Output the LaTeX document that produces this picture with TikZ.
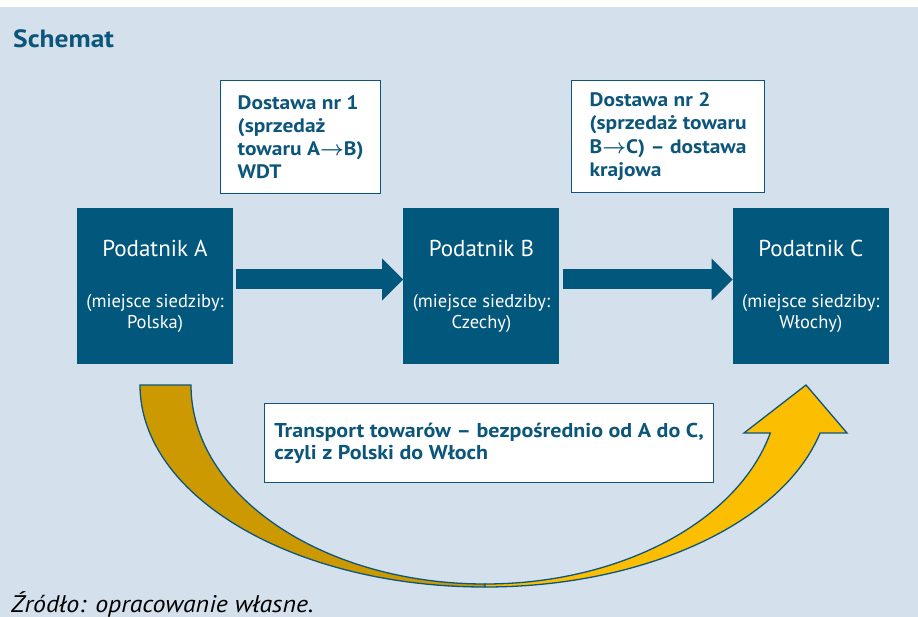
\documentclass[tikz,border=0pt]{standalone}
\usepackage{fontspec}
\setmainfont{PT Sans}[BoldFeatures={FakeStretch=1.1},ItalicFeatures={FakeStretch=1.08}]
\usepackage{bm}
\usepackage{tikz}
\usetikzlibrary{arrows.meta,positioning}
\definecolor{Bg}{HTML}{D4E0EB}
\definecolor{Petrol}{HTML}{02577C}
\definecolor{InkBlue}{HTML}{0C567B}
\definecolor{DarkGold}{HTML}{CC9A00}
\definecolor{LightGold}{HTML}{FBBE00}
\newcommand{\payername}{\fontsize{23}{25}\selectfont}

\begin{document}
\begin{tikzpicture}[
  x=1pt,y=1pt,
  every node/.style={inner sep=0pt},
  taxpayer/.style={fill=Petrol,text=white,minimum width=156pt,minimum height=156pt,align=center,
    font=\fontsize{18.5}{20.5}\selectfont},
  note/.style={draw=InkBlue,line width=1.3pt,fill=white,text=InkBlue,align=left,
    font=\bfseries\fontsize{19.5}{23.3}\selectfont,anchor=north west},
  blockarr/.style={line width=20pt,color=Petrol,shorten <=3pt,
    -{Triangle[length=21pt,width=42pt,line width=0pt]}},
  band/.style={draw=InkBlue,line width=1.3pt,line join=miter}
]
\useasboundingbox (0,0) rectangle (918,-617);
\fill[Bg] (0,-7) rectangle (918,-617);

\node[anchor=base west,text=InkBlue,font=\bfseries\fontsize{25}{27}\selectfont] (title) at (13,-48) {Schemat};

% curved transport arrow
\filldraw[band,fill=DarkGold] (140,-385) arc[start angle=180,end angle=270,x radius=345,y radius=202]
  -- (485,-584) arc[start angle=270,end angle=180,x radius=294,y radius=199] -- cycle;
\filldraw[band,fill=LightGold] (485,-587) arc[start angle=270,end angle=346.25,x radius=345,y radius=202]
  -- (847,-433) -- (806,-385) -- (744,-433) -- (770.3,-433)
  arc[start angle=-13.96,end angle=-90,x radius=294,y radius=199] -- cycle;

\node[taxpayer] (podA) at (155,-286) {{\payername Podatnik A}\\[31pt](miejsce siedziby:\\Polska)};
\node[taxpayer,right=170pt of podA] (podB) {{\payername Podatnik B}\\[31pt](miejsce siedziby:\\Czechy)};
\node[taxpayer,right=173pt of podB] (podC) {{\payername Podatnik C}\\[31pt](miejsce siedziby:\\Włochy)};

\node[note,minimum width=160pt,minimum height=113pt] (deliv1) at (220,-80)
  {Dostawa nr 1\\(sprzedaż\\towaru A$\bm{\rightarrow}$B)\\WDT};
\node[note,minimum width=193pt,minimum height=112pt] (deliv2) at (571,-80)
  {Dostawa nr 2\\(sprzedaż towaru\\B$\bm{\rightarrow}$C) – dostawa\\krajowa};
\node[note,minimum width=449pt,minimum height=79pt,font=\bfseries\fontsize{20}{22}\selectfont] (transport) at (264,-403)
  {Transport towarów – bezpośrednio od A do C,\\czyli z Polski do Włoch};

\draw[blockarr] ([yshift=6.5pt]podA.east) -- ([yshift=6.5pt]podB.west);
\draw[blockarr] ([yshift=6.5pt]podB.east) -- ([yshift=6.5pt]podC.west);

\node[anchor=base west,font=\itshape\fontsize{24}{26}\selectfont] (source) at (11,-612) {Źródło: opracowanie własne.};
\end{tikzpicture}
\end{document}
